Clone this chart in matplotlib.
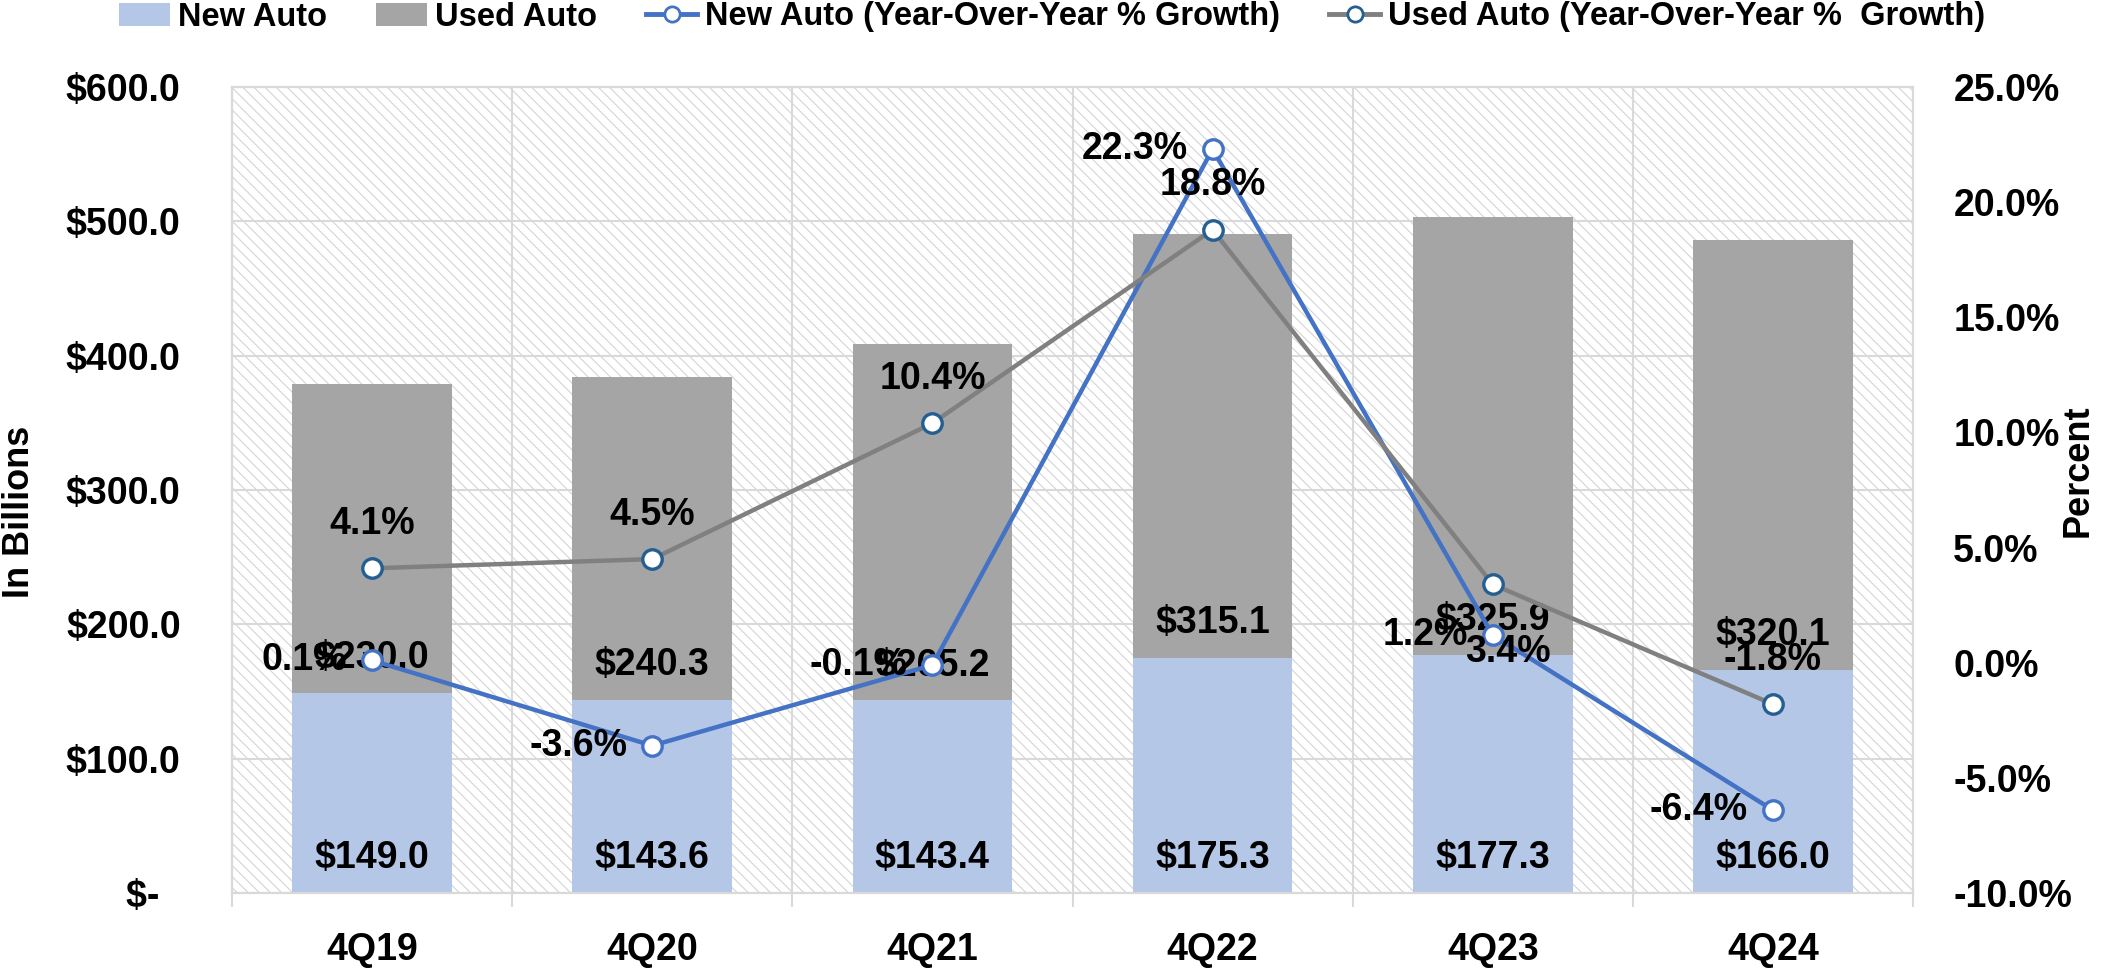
import matplotlib
matplotlib.use('Agg')
import matplotlib.pyplot as plt
from matplotlib.patches import Rectangle, Patch
from matplotlib.lines import Line2D
from matplotlib.ticker import FuncFormatter

quarters = ['4Q19', '4Q20', '4Q21', '4Q22', '4Q23', '4Q24']
new_auto = [149.0, 143.6, 143.4, 175.3, 177.3, 166.0]
used_auto = [230.0, 240.3, 265.2, 315.1, 325.9, 320.1]
new_growth = [0.1, -3.6, -0.1, 22.3, 1.2, -6.4]
used_growth = [4.1, 4.5, 10.4, 18.8, 3.4, -1.8]

NEW_COLOR = '#B4C7E7'
USED_COLOR = '#A5A5A5'
NEW_LINE = '#4472C4'
USED_LINE = '#808080'
USED_EDGE = '#255E91'
GRID = '#D9D9D9'

plt.rcParams['font.family'] = ['Liberation Sans', 'DejaVu Sans']
plt.rcParams['font.weight'] = 'bold'
plt.rcParams['hatch.linewidth'] = 0.8

fig = plt.figure(figsize=(21.25, 9.68), dpi=100)
ax = fig.add_axes([232 / 2125, 75 / 968, 1681 / 2125, 806 / 968])
x = list(range(len(quarters)))

# hatched plot background
ax.add_patch(Rectangle((0, 0), 1, 1, transform=ax.transAxes, facecolor='white',
                       edgecolor='#D4D4D4', hatch='\\\\\\', lw=0, zorder=0.2))
ax.set_axisbelow(True)

ax.bar(x, new_auto, width=0.57, color=NEW_COLOR, zorder=2)
ax.bar(x, used_auto, width=0.57, bottom=new_auto, color=USED_COLOR, zorder=2)

for i in x:
    ax.annotate('${:.1f}'.format(new_auto[i]), (i, 0), xytext=(0, 25),
                textcoords='offset points', ha='center', va='center', fontsize=27, zorder=5)
    ax.annotate('${:.1f}'.format(used_auto[i]), (i, new_auto[i]), xytext=(0, 25),
                textcoords='offset points', ha='center', va='center', fontsize=27, zorder=5)

ax.set_xlim(-0.5, len(quarters) - 0.5)
ax.set_ylim(0, 600)
ax.set_yticks(range(0, 601, 100))
ax.yaxis.set_major_formatter(FuncFormatter(
    lambda v, p: '$-  ' if v == 0 else '${:.1f}'.format(v)))
ax.set_xticks(x)
ax.set_xticklabels(quarters)
ax.set_xticks([i - 0.5 for i in range(len(quarters) + 1)], minor=True)
ax.tick_params(axis='x', which='major', length=0, pad=28, labelsize=27)
ax.tick_params(axis='x', which='minor', length=10, width=1.5, color=GRID)
ax.tick_params(axis='y', length=0, pad=37, labelsize=27)
ax.grid(axis='y', color=GRID, lw=1.5)
ax.grid(axis='x', which='minor', color=GRID, lw=1.5)
for s in ax.spines.values():
    s.set_color(GRID)
    s.set_linewidth(1.5)

ax2 = ax.twinx()
ax2.plot(x, new_growth, color=NEW_LINE, lw=3.2, marker='o', ms=14,
         mfc='white', mec=NEW_LINE, mew=2.4, zorder=3)
ax2.plot(x, used_growth, color=USED_LINE, lw=3.2, marker='o', ms=14,
         mfc='white', mec=USED_EDGE, mew=2.4, zorder=3)
ax2.set_ylim(-10, 25)
ax2.set_yticks(range(-10, 26, 5))
ax2.yaxis.set_major_formatter(FuncFormatter(lambda v, p: '{:.1f}%'.format(v)))
ax2.tick_params(axis='y', length=0, pad=29, labelsize=27)
for s in ax2.spines.values():
    s.set_color(GRID)
    s.set_linewidth(1.5)

for i in x:
    ax2.annotate('{:.1f}%'.format(new_growth[i]), (i, new_growth[i]), xytext=(-18, 0),
                 textcoords='offset points', ha='right', va='center', fontsize=27)
    if quarters[i] == '4Q23':
        off = (11, -49)
    else:
        off = (0, 32)
    ax2.annotate('{:.1f}%'.format(used_growth[i]), (i, used_growth[i]), xytext=off,
                 textcoords='offset points', ha='center', va='center', fontsize=27)

fig.text(20 / 2125, 1 - 512 / 968, 'In Billions', rotation=90, ha='center',
         va='center', fontsize=26)
fig.text(2078 / 2125, 1 - 471 / 968, 'Percent', rotation=90, ha='center',
         va='center', fontsize=26)

handles = [
    Patch(facecolor=NEW_COLOR, label='New Auto'),
    Patch(facecolor=USED_COLOR, label='Used Auto'),
    Line2D([], [], color=NEW_LINE, lw=3.5, marker='o', ms=11, mfc='white',
           mec=NEW_LINE, mew=2, label='New Auto (Year-Over-Year % Growth)'),
    Line2D([], [], color=USED_LINE, lw=3.5, marker='o', ms=11, mfc='white',
           mec=USED_EDGE, mew=2, label='Used Auto (Year-Over-Year %  Growth)'),
]
fig.legend(handles=handles, loc='center left', bbox_to_anchor=(119 / 2125, 1 - 17 / 968),
           ncol=4, frameon=False, fontsize=23.5, borderpad=0, borderaxespad=0,
           handlelength=1.56, handletextpad=0.25, columnspacing=1.5)

fig.savefig('out.png', dpi=100)
